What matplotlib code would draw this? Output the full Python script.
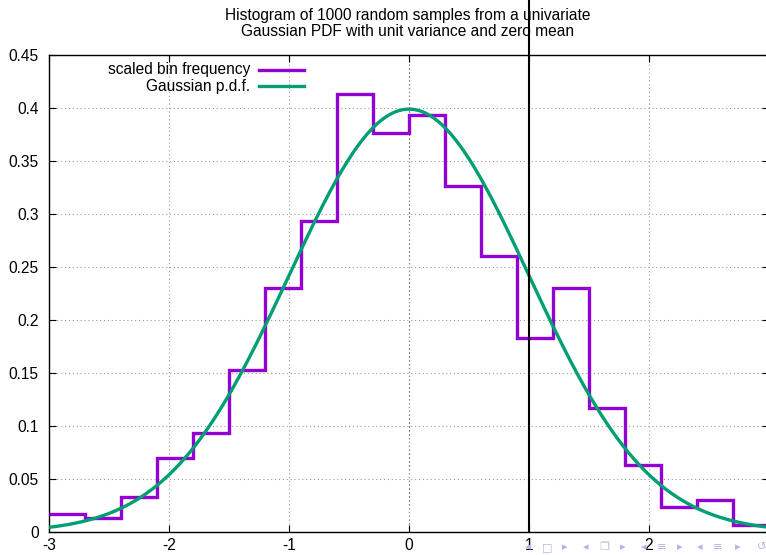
import numpy as np
import matplotlib
matplotlib.use("Agg")
import matplotlib.pyplot as plt
from matplotlib.lines import Line2D
import matplotlib.transforms as mtransforms

plt.rcParams['font.family'] = ['Liberation Sans', 'DejaVu Sans']

# ---- data ----
bin_edges = [-3.0, -2.7, -2.4, -2.1, -1.8, -1.5, -1.2, -0.9, -0.6, -0.3, 0.0,
             0.3, 0.6, 0.9, 1.2, 1.5, 1.8, 2.1, 2.4, 2.7, 3.0]
scaled_freq = [0.0167, 0.0133, 0.0333, 0.0700, 0.0933, 0.1533, 0.2300, 0.2933,
               0.4133, 0.3767, 0.3933, 0.3267, 0.2600, 0.1833, 0.2300, 0.1167,
               0.0633, 0.0233, 0.0300, 0.0067]
pdf_mean = 0.0
pdf_var = 1.0
xticks = [-3, -2, -1, 0, 1, 2, 3]
yticks = [0, 0.05, 0.1, 0.15, 0.2, 0.25, 0.3, 0.35, 0.4, 0.45]
ytick_labels = ['0', '0.05', '0.1', '0.15', '0.2', '0.25', '0.3', '0.35', '0.4', '0.45']
title = "Histogram of 1000 random samples from a univariate\nGaussian PDF with unit variance and zero mean"
legend_labels = ["scaled bin frequency", "Gaussian p.d.f."]

purple = '#9400d3'
green = '#009e73'
FS = 11.2

W, H = 766, 555
fig = plt.figure(figsize=(W / 100, H / 100), dpi=100)
ax = fig.add_axes([49 / W, 23 / H, (769 - 49) / W, 477 / H])

ax.set_xlim(-3, 3)
ax.set_ylim(0, 0.45)
ax.set_xticks(xticks)
ax.set_xticklabels([str(t) for t in xticks])
ax.set_yticks(yticks)
ax.set_yticklabels(ytick_labels)
ax.tick_params(direction='in', top=True, right=True, length=5, width=0.8,
               labelsize=FS, colors='black')
ax.tick_params(axis='x', pad=4)
ax.tick_params(axis='y', pad=7.5)
for s in ax.spines.values():
    s.set_linewidth(1.0)
ax.spines['right'].set_visible(False)

ax.grid(True, linestyle=(0, (1, 2.5)), color='#9a9a9a', linewidth=0.8)
ax.axvline(0, color='black', linestyle=(0, (1, 2.5)), linewidth=0.8, zorder=1.5)

# histogram steps
ax.stairs(scaled_freq, bin_edges, baseline=None, color=purple, linewidth=2.4, zorder=3)

# gaussian pdf
xs = np.linspace(-3, 3, 400)
ys = np.exp(-(xs - pdf_mean) ** 2 / (2 * pdf_var)) / np.sqrt(2 * np.pi * pdf_var)
ax.plot(xs, ys, color=green, linewidth=2.4, zorder=4)

# vertical black line at x=1 extending above plot
trans = mtransforms.blended_transform_factory(ax.transData, ax.transAxes)
ax.plot([1, 1], [0, 1.13], transform=trans, color='black', linewidth=1.5,
        clip_on=False, zorder=5)

# title
fig.text(408 / W, 1 - 23.5 / H, title, ha='center', va='center', fontsize=FS,
         linespacing=1.12)

# legend (gnuplot style)
for i, (lab, col) in enumerate(zip(legend_labels, [purple, green])):
    yy = 1 - (69.7 + 16.5 * i) / H
    fig.text(250 / W, yy, lab, ha='right', va='center', fontsize=FS)
    fig.add_artist(Line2D([259 / W, 304 / W], [yy, yy], color=col, linewidth=2.4))

# beamer navigation symbols
nav = [(528, '◂'), (547, '□'), (565, '▸'), (586, '◂'), (604, '❐'), (623, '▸'),
       (644, '◂'), (662, '≡'), (680, '▸'), (700, '◂'), (718, '≡'), (738, '▸'),
       (762, '↺')]
for px, ch in nav:
    fig.text(px / W, 1 - 547 / H, ch, ha='center', va='center', fontsize=8,
             color='#b4b4e4', family=['DejaVu Sans', 'Noto Sans CJK SC'])

fig.savefig('out.png', dpi=100)
